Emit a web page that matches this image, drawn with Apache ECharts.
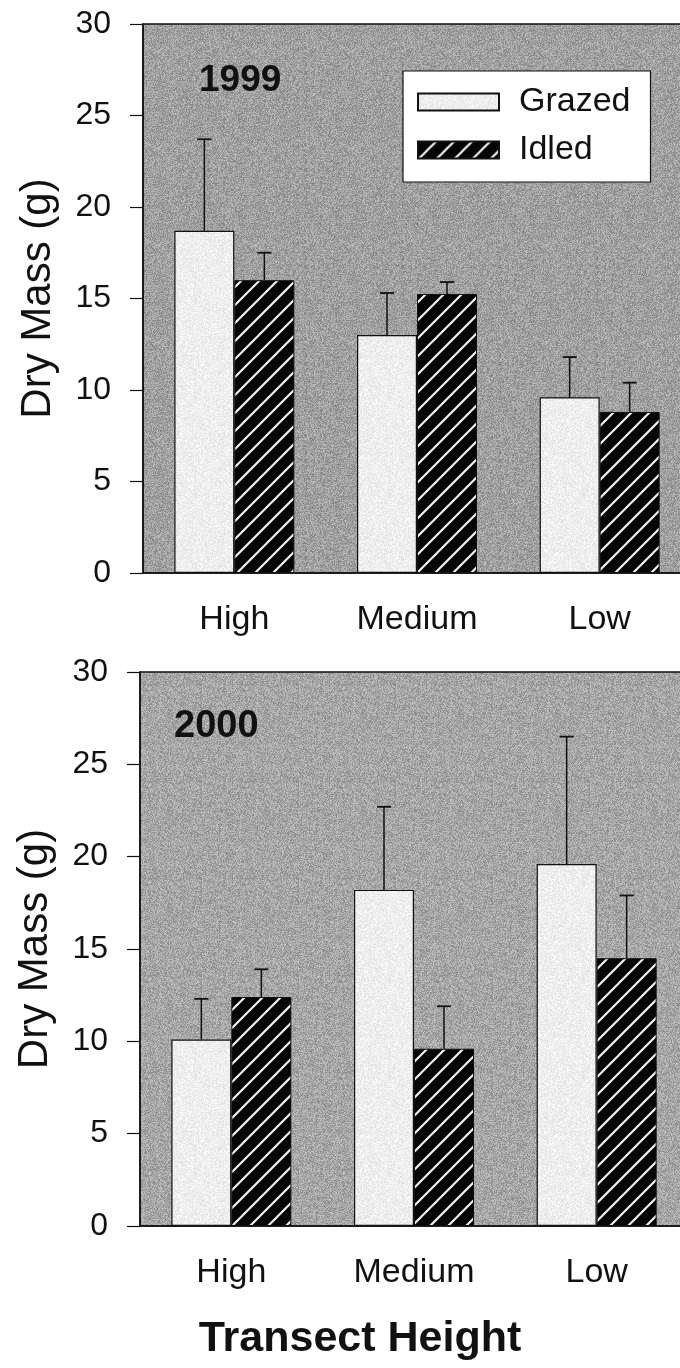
<!DOCTYPE html>
<html><head><meta charset="utf-8">
<script src="https://cdn.jsdelivr.net/npm/echarts@6/dist/echarts.min.js"></script>
<style>html,body{margin:0;padding:0;background:#fff;overflow:hidden;width:680px;height:1368px}#c{width:720px;height:1368px}</style>
</head><body><div id="c"></div>
<script>
// ---- data ----
const categories = ['High', 'Medium', 'Low'];
const panelYears = ['1999', '2000'];
const seriesNames = ['Grazed', 'Idled'];
const grazed1999 = [18.7, 13.0, 9.6];
const grazed1999Upper = [23.7, 15.3, 11.8];
const idled1999 = [16.0, 15.25, 8.8];
const idled1999Upper = [17.5, 15.9, 10.4];
const grazed2000 = [10.1, 18.2, 19.6];
const grazed2000Upper = [12.3, 22.7, 26.5];
const idled2000 = [12.4, 9.6, 14.5];
const idled2000Upper = [13.9, 11.9, 17.9];
const yMin = 0, yMax = 30, yStep = 5;
const yAxisTitle = 'Dry Mass (g)';
const xAxisTitle = 'Transect Height';

// ---- textures ----
const FONT = '"Liberation Sans", Arial, sans-serif';
function stripeCanvas() {
  const s = 18, c = document.createElement('canvas');
  c.width = s; c.height = s;
  const g = c.getContext('2d');
  g.fillStyle = '#050505'; g.fillRect(0, 0, s, s);
  g.strokeStyle = '#f4f4f4'; g.lineWidth = 2.2;
  g.beginPath();
  g.moveTo(-2, s + 2); g.lineTo(s + 2, -2);
  g.moveTo(-3, 3); g.lineTo(3, -3);
  g.moveTo(s - 3, s + 3); g.lineTo(s + 3, s - 3);
  g.stroke();
  return c;
}
function texture(base, amp, seed) {
  const n = 97, c = document.createElement('canvas');
  c.width = n; c.height = n;
  const g = c.getContext('2d');
  const img = g.createImageData(n, n);
  for (let y = 0; y < n; y++) for (let x = 0; x < n; x++) {
    let h = Math.sin(x * 12.9898 + y * 78.233 + seed) * 43758.5453;
    h = h - Math.floor(h);
    const v = Math.max(0, Math.min(255, base + (h - 0.5) * amp));
    const i = (y * n + x) * 4;
    img.data[i] = v; img.data[i + 1] = v; img.data[i + 2] = v; img.data[i + 3] = 255;
  }
  g.putImageData(img, 0, 0);
  return c;
}
const stripes = { image: stripeCanvas(), repeat: 'repeat' };
const bgTop = { image: texture(160, 60, 1.3), repeat: 'repeat' };
const bgBot = { image: texture(166, 60, 7.1), repeat: 'repeat' };
const lightFill = { image: texture(238, 30, 3.7), repeat: 'repeat' };

const chart = echarts.init(document.getElementById('c'), null, { renderer: 'canvas' });

function errRender(offset) {
  return function (params, api) {
    const cat = api.value(0);
    const x = api.coord([cat, 0])[0] + offset;
    const yBar = api.coord([cat, api.value(1)])[1];
    const yTop = api.coord([cat, api.value(2)])[1];
    return {
      type: 'group', children: [
        { type: 'line', shape: { x1: x, y1: yBar, x2: x, y2: yTop }, style: { stroke: '#111', lineWidth: 1.5 } },
        { type: 'line', shape: { x1: x - 7, y1: yTop, x2: x + 7, y2: yTop }, style: { stroke: '#111', lineWidth: 1.8 } }
      ]
    };
  };
}
function errData(means, uppers) { return means.map((m, i) => [i, m, uppers[i]]); }

const grids = [
  { left: 143, top: 24, width: 548, height: 549, bg: bgTop },
  { left: 140, top: 672, width: 548, height: 554, bg: bgBot }
];
const panelData = [
  [grazed1999, grazed1999Upper, idled1999, idled1999Upper],
  [grazed2000, grazed2000Upper, idled2000, idled2000Upper]
];

const option = {
  animation: false,
  backgroundColor: '#fff',
  textStyle: { fontFamily: FONT },
  grid: grids.map(g => ({
    left: g.left, top: g.top, width: g.width, height: g.height,
    show: true, backgroundColor: g.bg, borderColor: '#111', borderWidth: 1.5
  })),
  legend: {
    data: seriesNames, orient: 'vertical', left: 403, top: 71,
    backgroundColor: '#fff', borderColor: '#111', borderWidth: 1.2,
    padding: [14, 20, 15, 14], itemWidth: 81, itemHeight: 17, itemGap: 14,
    icon: 'rect', selectedMode: false,
    textStyle: { fontSize: 34, color: '#111', fontFamily: FONT, padding: [0, 0, 0, 15] }
  },
  xAxis: grids.map((g, i) => ({
    type: 'category', gridIndex: i, data: categories,
    axisLine: { lineStyle: { color: '#111', width: 1.5 } },
    axisTick: { alignWithLabel: true, length: 13, lineStyle: { color: '#111', width: 1.2 } },
    axisLabel: { fontSize: 34, color: '#111', margin: 30, fontFamily: FONT }
  })),
  yAxis: grids.map((g, i) => ({
    type: 'value', gridIndex: i, min: yMin, max: yMax, interval: yStep,
    name: yAxisTitle, nameLocation: 'middle', nameGap: 84,
    nameTextStyle: { fontSize: 42, color: '#111', fontFamily: FONT },
    axisLine: { show: true, lineStyle: { color: '#111', width: 1.5 } },
    axisTick: { show: true, length: 13, lineStyle: { color: '#111', width: 1.2 } },
    axisLabel: { fontSize: 32, color: '#111', margin: 32, fontFamily: FONT },
    splitLine: { show: false }
  })),
  graphic: [
    { type: 'text', left: 199, top: 62, style: { text: panelYears[0], font: 'bold 37px ' + FONT, fill: '#111' } },
    { type: 'text', left: 174, top: 708, style: { text: panelYears[1], font: 'bold 38px ' + FONT, fill: '#111' } },
    { type: 'text', x: 360, y: 1339, style: { text: xAxisTitle, font: 'bold 43px ' + FONT, fill: '#111', align: 'center', verticalAlign: 'middle' } }
  ],
  series: []
};

panelData.forEach((d, i) => {
  option.series.push({
    name: seriesNames[0], type: 'bar', xAxisIndex: i, yAxisIndex: i, data: d[0],
    barWidth: 60, barGap: '0%',
    itemStyle: { color: lightFill, borderColor: '#111', borderWidth: 1.2 }
  });
  option.series.push({
    name: seriesNames[1], type: 'bar', xAxisIndex: i, yAxisIndex: i, data: d[2],
    barWidth: 60, barGap: '0%',
    itemStyle: { color: stripes, borderColor: '#111', borderWidth: 1 }
  });
  option.series.push({
    name: 'errG' + i, type: 'custom', xAxisIndex: i, yAxisIndex: i, z: 5,
    renderItem: errRender(-30), data: errData(d[0], d[1])
  });
  option.series.push({
    name: 'errI' + i, type: 'custom', xAxisIndex: i, yAxisIndex: i, z: 5,
    renderItem: errRender(30), data: errData(d[2], d[3])
  });
});

chart.setOption(option);
</script>
</body></html>
